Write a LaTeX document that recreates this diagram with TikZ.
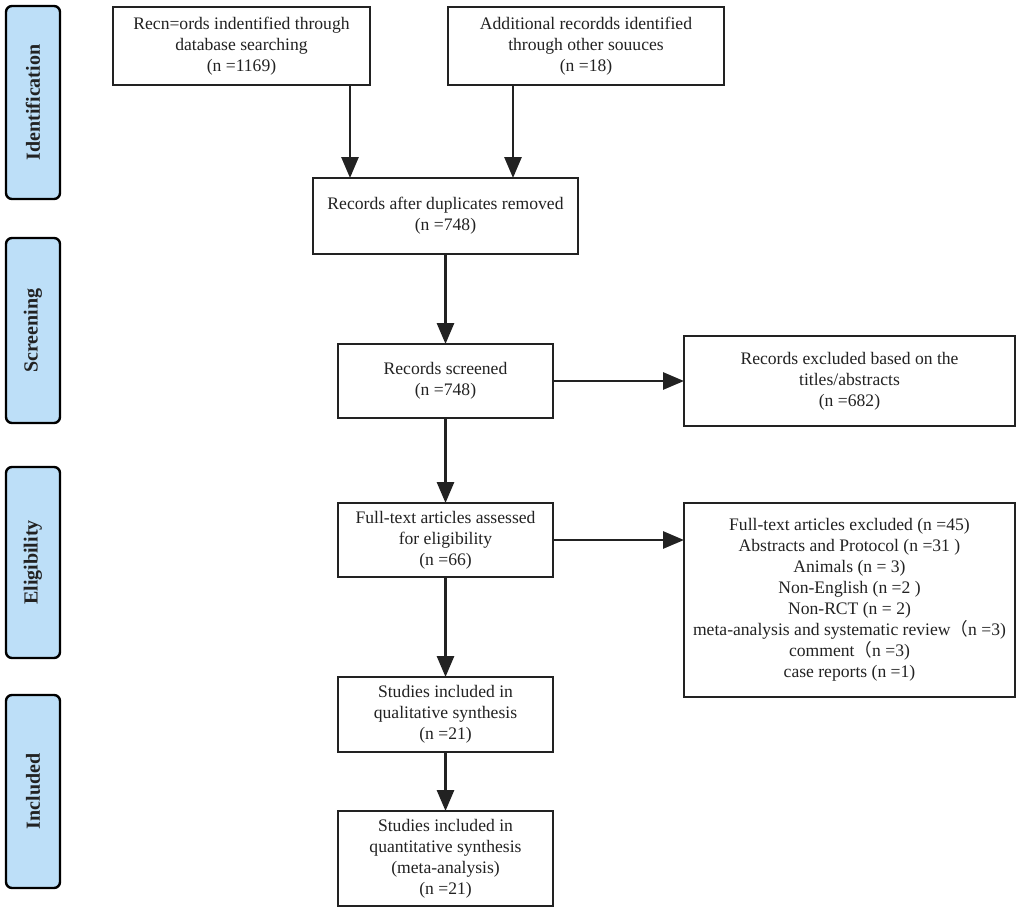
\documentclass[tikz,border=0pt]{standalone}
\usepackage{fontspec}
\setmainfont{Liberation Serif}
\newfontfamily\cjk{Noto Sans CJK SC}
\usetikzlibrary{arrows.meta}
\definecolor{sidefill}{RGB}{189,223,248}
\definecolor{ink}{RGB}{34,34,34}
\tikzset{
  box/.style={draw=ink, line width=2.8pt, fill=white, align=center, inner sep=0pt, outer sep=0pt,
    text=ink, font=\fontsize{17.6}{21}\selectfont},
  side/.style={draw=black, line width=2.4pt, fill=sidefill, rounded corners=6pt, rotate=90,
    minimum height=54pt, inner sep=0pt, outer sep=0pt, font=\bfseries\fontsize{20}{22}\selectfont, text=ink},
  arr/.style={draw=ink, line width=2.8pt, -{Triangle[length=21pt,width=17pt]}}
}
\begin{document}
\begin{tikzpicture}[x=1pt,y=-1pt]
\useasboundingbox[fill=white] (0,0) rectangle (1020,911);

% side labels
\node[side, minimum width=193pt] (s1) at (33,102.5) {Identification};
\node[side, minimum width=185pt] (s2) at (33,330.5) {Screening};
\node[side, minimum width=191pt] (s3) at (33,562.5) {Eligibility};
\node[side, minimum width=193pt] (s4) at (33,791.5) {Included};

% boxes
\node[box, minimum width=257pt, minimum height=78pt] (b1) at (241.5,46)
  {Recn=ords indentified through\\database searching\\(n =1169)};
\node[box, minimum width=276pt, minimum height=78pt] (b2) at (586,46)
  {Additional recordds identified\\through other souuces\\(n =18)};
\node[box, minimum width=265pt, minimum height=76pt] (b3) at (445.5,216)
  {Records after duplicates removed\\(n =748)};
\node[box, minimum width=215pt, minimum height=74pt] (b4) at (445.5,381)
  {Records screened\\(n =748)};
\node[box, minimum width=331pt, minimum height=90pt] (b5) at (849.5,381)
  {Records excluded based on the\\titles/abstracts\\(n =682)};
\node[box, minimum width=215pt, minimum height=74pt] (b6) at (445.5,540)
  {Full-text articles assessed\\for eligibility\\(n =66)};
\node[box, minimum width=331pt, minimum height=194pt] (b7) at (849.5,600)
  {Full-text articles excluded (n =45)\\Abstracts and Protocol (n =31 )\\Animals (n = 3)\\Non-English (n =2 )\\Non-RCT (n = 2)\\meta-analysis and systematic review{\cjk （}n =3)\\comment{\cjk （}n =3)\\case reports (n =1)};
\node[box, minimum width=215pt, minimum height=75pt] (b8) at (445.5,714.5)
  {Studies included in\\qualitative synthesis\\(n =21)};
\node[box, minimum width=215pt, minimum height=95pt] (b9) at (445.5,858.5)
  {Studies included in\\quantitative synthesis\\(meta-analysis)\\(n =21)};

% connectors
\coordinate (x1) at (350,0);
\coordinate (x2) at (513,0);
\draw[arr] (b1.south -| x1) -- (b3.north -| x1);
\draw[arr] (b2.south -| x2) -- (b3.north -| x2);
\draw[arr] (b3.south) -- (b4.north);
\draw[arr] (b4.east) -- (b5.west);
\draw[arr] (b4.south) -- (b6.north);
\draw[arr] (b6.east) -- (b7.west |- b6.east);
\draw[arr] (b6.south) -- (b8.north);
\draw[arr] (b8.south) -- (b9.north);
\end{tikzpicture}
\end{document}
